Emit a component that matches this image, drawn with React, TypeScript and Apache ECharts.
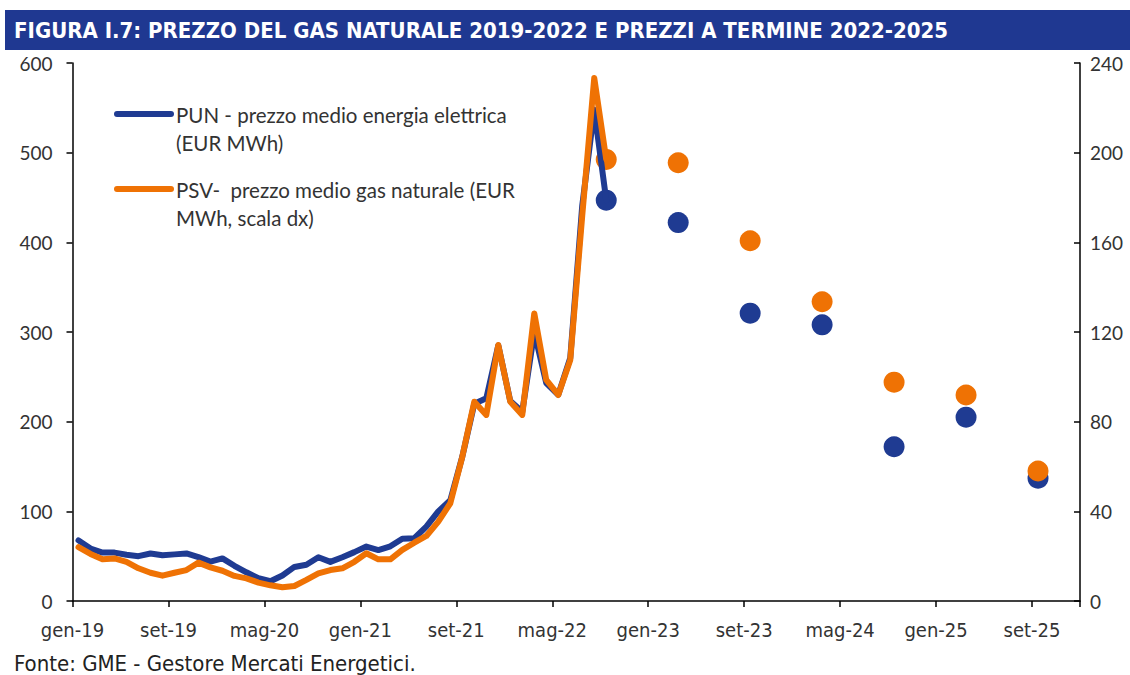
import React, { useEffect, useRef } from "react";
import * as echarts from "echarts";

const MONTHS = ["gen", "feb", "mar", "apr", "mag", "giu", "lug", "ago", "set", "ott", "nov", "dic"];
const YEARS = ["19", "20", "21", "22", "23", "24", "25"];
const categories: string[] = [];
YEARS.forEach((y) => MONTHS.forEach((m) => categories.push(`${m}-${y}`)));

// PUN monthly (EUR/MWh), gen-19 .. set-22 (left axis)
const punMonthly = [
  67.6, 58.5, 54.0, 54.0, 51.5, 50.0, 53.0, 51.0, 52.0, 53.0, 49.0, 44.0,
  47.5, 39.3, 32.0, 25.5, 22.0, 28.5, 38.0, 40.5, 48.8, 43.6, 48.8, 54.5,
  60.7, 56.8, 61.0, 69.5, 70.0, 83.0, 100.0, 112.4,
  161.0, 220.0, 226.0, 285.0, 223.0, 211.0, 300.0, 243.0, 230.0, 271.0, 441.0, 548.0, 447.0,
];

// PSV monthly (EUR/MWh, right axis), gen-19 .. set-22
const psvMonthly = [
  24.0, 21.0, 18.6, 19.0, 17.5, 14.6, 12.6, 11.3, 12.6, 13.8, 17.1, 15.0,
  13.5, 11.2, 10.1, 8.2, 7.0, 6.1, 6.7, 9.4, 12.3, 13.8, 14.6, 17.5,
  21.3, 18.6, 18.6, 22.8, 26.0, 29.0, 35.4, 43.6,
  64.4, 88.9, 83.0, 114.2, 88.9, 83.0, 128.3, 98.6, 91.9, 107.5, 172.0, 233.3, 197.0,
];

// Forward prices (semiannual points)
const forwardMonths = ["set-22", "mar-23", "set-23", "mar-24", "set-24", "mar-25", "set-25"];
const punForward = [447, 422, 321, 308, 172, 205, 137];
const psvForward = [197, 195.5, 160.7, 133.5, 97.6, 91.9, 58];

const leftTicks = { min: 0, max: 600, interval: 100 };
const rightTicks = { min: 0, max: 240, interval: 40 };

const TITLE = "FIGURA I.7: PREZZO DEL GAS NATURALE 2019-2022 E PREZZI A TERMINE 2022-2025";
const SOURCE = "Fonte: GME - Gestore Mercati Energetici.";
const LEGEND_PUN = ["PUN - prezzo medio energia elettrica", "(EUR MWh)"];
const LEGEND_PSV = ["PSV-  prezzo medio gas naturale (EUR", "MWh, scala dx)"];

const BLUE = "#1f3b92";
const ORANGE = "#ef7204";
const TEXT = "#333333";
const FONT = "Lato, 'Open Sans', sans-serif";
const NARROW = "'Liberation Sans Narrow', 'DejaVu Sans Condensed', sans-serif";

export default function App() {
  const ref = useRef<HTMLDivElement>(null);
  useEffect(() => {
    if (!ref.current) return;
    const chart = echarts.init(ref.current, undefined, { renderer: "svg" });
    const axisLine = { show: true, lineStyle: { color: "#000", width: 1.5 } };
    const option: any = {
      animation: false,
      backgroundColor: "#fff",
      grid: { left: 72.5, right: 50, top: 63, bottom: 74, containLabel: false },
      xAxis: {
        type: "category",
        data: categories,
        boundaryGap: true,
        axisLine,
        axisTick: { show: true, interval: 7, length: 6, lineStyle: { color: "#000", width: 1.5 } },
        axisLabel: {
          interval: 7,
          margin: 19,
          color: TEXT,
          fontFamily: NARROW,
          fontSize: 20,
          padding: [0, 12, 0, 0],
        },
        splitLine: { show: false },
      },
      yAxis: [
        {
          type: "value",
          ...leftTicks,
          axisLine,
          axisTick: { show: true, length: 6, lineStyle: { color: "#000", width: 1.5 } },
          axisLabel: { margin: 20, color: TEXT, fontFamily: FONT, fontSize: 19 },
          splitLine: { show: false },
        },
        {
          type: "value",
          ...rightTicks,
          position: "right",
          axisLine,
          axisTick: { show: true, inside: true, length: 6, lineStyle: { color: "#000", width: 1.5 } },
          axisLabel: { margin: 10, color: TEXT, fontFamily: FONT, fontSize: 19 },
          splitLine: { show: false },
        },
      ],
      series: [
        {
          name: "PUN",
          type: "line",
          yAxisIndex: 0,
          data: punMonthly,
          showSymbol: false,
          symbol: "none",
          lineStyle: { color: BLUE, width: 6, join: "round", cap: "round" },
          itemStyle: { color: BLUE },
        },
        {
          name: "PSV",
          type: "line",
          yAxisIndex: 1,
          data: psvMonthly,
          showSymbol: false,
          symbol: "none",
          lineStyle: { color: ORANGE, width: 6, join: "round", cap: "round" },
          itemStyle: { color: ORANGE },
        },
        {
          name: "PUN a termine",
          type: "scatter",
          yAxisIndex: 0,
          symbolSize: 21,
          itemStyle: { color: BLUE, opacity: 1 },
          data: forwardMonths.map((m, i) => [m, punForward[i]]),
        },
        {
          name: "PSV a termine",
          type: "scatter",
          yAxisIndex: 1,
          symbolSize: 21,
          itemStyle: { color: ORANGE, opacity: 1 },
          data: forwardMonths.map((m, i) => [m, psvForward[i]]),
        },
      ],
      graphic: [
        { type: "rect", shape: { x: 5, y: 10, width: 1125, height: 40 }, style: { fill: "#1f3891" } },
        {
          type: "text",
          x: 14,
          y: 30,
          style: {
            text: TITLE,
            fill: "#fff",
            font: `bold 22px ${NARROW}`,
            verticalAlign: "middle",
          },
        },
        {
          type: "text",
          x: 14,
          y: 663,
          style: { text: SOURCE, fill: "#222", font: `22px ${NARROW}`, verticalAlign: "middle" },
        },
        { type: "line", shape: { x1: 117, y1: 114, x2: 171, y2: 114 }, style: { stroke: BLUE, lineWidth: 6, lineCap: "round" } },
        { type: "text", x: 176, y: 115, style: { text: LEGEND_PUN[0], fill: TEXT, font: `20.5px ${FONT}`, verticalAlign: "middle" } },
        { type: "text", x: 176, y: 143, style: { text: LEGEND_PUN[1], fill: TEXT, font: `20.5px ${FONT}`, verticalAlign: "middle" } },
        { type: "line", shape: { x1: 117, y1: 189, x2: 171, y2: 189 }, style: { stroke: ORANGE, lineWidth: 6, lineCap: "round" } },
        { type: "text", x: 176, y: 190, style: { text: LEGEND_PSV[0], fill: TEXT, font: `20.5px ${FONT}`, verticalAlign: "middle" } },
        { type: "text", x: 176, y: 218, style: { text: LEGEND_PSV[1], fill: TEXT, font: `20.5px ${FONT}`, verticalAlign: "middle" } },
      ],
    };
    chart.setOption(option);
    return () => chart.dispose();
  }, []);
  return (
    <div
      ref={ref}
      style={{ position: "absolute", left: 0, top: 0, width: 1130, height: 675, background: "#fff" }}
    />
  );
}
